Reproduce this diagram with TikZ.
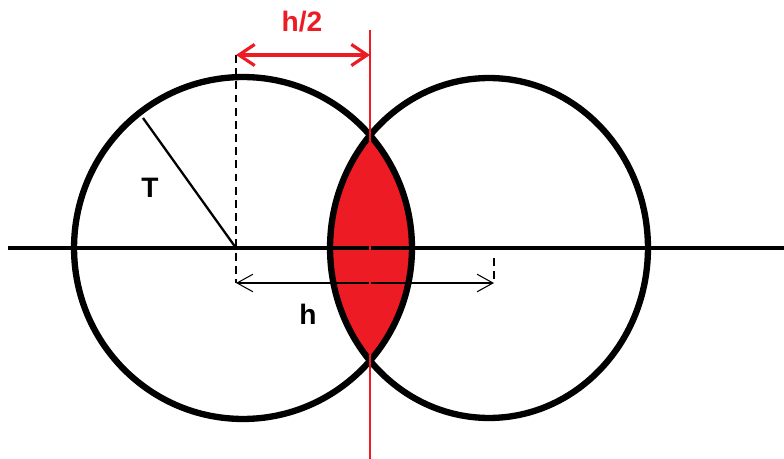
\documentclass[tikz,border=0pt]{standalone}
\usepackage{fontspec}
\setmainfont{Liberation Sans}
\usetikzlibrary{arrows.meta}
\definecolor{paintred}{RGB}{237,28,36}

\begin{document}
\begin{tikzpicture}[x=0.02cm, y=-0.02cm, font=\bfseries\fontsize{16}{19}\selectfont,
  ring/.style={line width=3.6pt},
  guide/.style={line width=0.6pt, dash pattern=on 4.5pt off 3pt},
  dimline/.style={line width=0.6pt, {Straight Barb[length=9pt,width=10pt]}-{Straight Barb[length=9pt,width=10pt]}},
  halfdim/.style={paintred, line width=1.8pt, {Straight Barb[length=9pt,width=12pt]}-{Straight Barb[length=9pt,width=12pt]}}]
\useasboundingbox (0,0) rectangle (784,459);
\coordinate (CL) at (243,248); \coordinate (CR) at (489,248); \coordinate (O) at (236,248); \coordinate (Rim) at (143,118);
\coordinate (AxL) at (8,248); \coordinate (AxR) at (784,248); \coordinate (Vtop) at (370,30); \coordinate (Vbot) at (370,459);
\coordinate (Gtop) at (236,55); \coordinate (Gbot) at (236,283); \coordinate (Ttop) at (494,258); \coordinate (Tbot) at (494,283); \coordinate (Mid) at (370,55);
% lens shared by both circles
\begin{scope} \clip (CL) ellipse [x radius=3.38cm, y radius=3.42cm]; \fill[paintred] (CR) ellipse [x radius=3.18cm, y radius=3.40cm]; \end{scope}
\draw[ring] (CL) ellipse [x radius=3.38cm, y radius=3.42cm]; \draw[ring] (CR) ellipse [x radius=3.18cm, y radius=3.40cm];
\draw[line width=2.7pt] (AxL) -- (AxR); \draw[line width=1.3pt] (O) -- (Rim);
\draw[guide] (Gtop) -- (Gbot); \draw[guide] (Ttop) -- (Tbot);
\draw[dimline] (Gbot) -- (Tbot);
\draw[paintred, line width=1.7pt] (Vtop) -- (Vbot); \draw[halfdim] (Gtop) -- (Mid);
\node[paintred] (half) at (302,22) {h/2}; \node (rad) at (150,188) {T}; \node (dist) at (308,314) {h};
\end{tikzpicture}
\end{document}
